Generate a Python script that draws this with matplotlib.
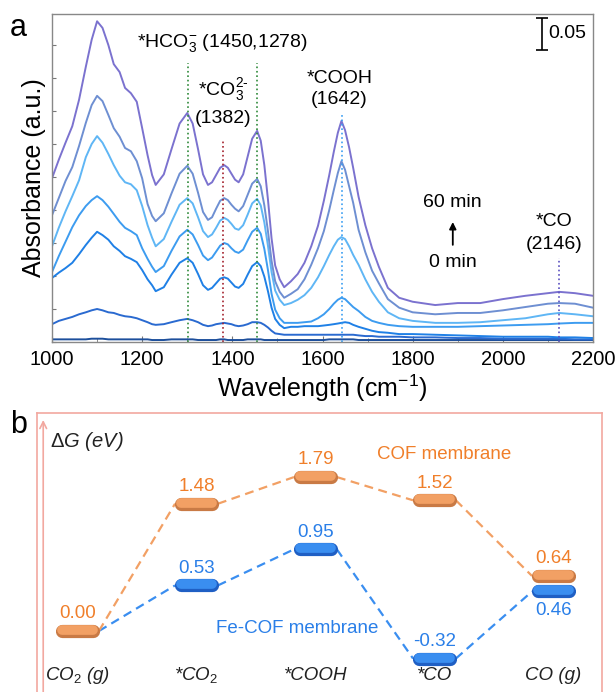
import numpy as np
import matplotlib
matplotlib.use("Agg")
import matplotlib.pyplot as plt
from matplotlib.ticker import MultipleLocator

plt.rcParams['font.family'] = ['Liberation Sans', 'DejaVu Sans']
plt.rcParams['mathtext.fontset'] = 'custom'
plt.rcParams['mathtext.rm'] = 'Liberation Sans'
plt.rcParams['mathtext.it'] = 'Liberation Sans:italic'

# ---- panel a: in-situ IR spectra ----
wn = [1000, 1015, 1030, 1045, 1060, 1075, 1088, 1100, 1112, 1125, 1137, 1150, 1162, 1175, 1188, 1200, 1212, 1222, 1230,
      1248, 1265, 1283, 1300, 1312, 1324, 1335, 1346, 1355, 1364, 1373, 1382, 1390, 1398, 1406, 1414,
      1424, 1434, 1444, 1455, 1463, 1471, 1479, 1487, 1495, 1505,
      1515, 1530, 1545, 1560, 1575, 1590, 1603, 1615, 1625, 1634, 1642, 1650, 1659, 1668, 1680, 1695,
      1710, 1725, 1745, 1770, 1800,
      1850, 1900, 1950, 2000, 2050, 2100, 2125, 2160, 2200]

abs_60 = [0.248, 0.276, 0.302, 0.327, 0.367, 0.417, 0.458, 0.486, 0.476, 0.450, 0.421, 0.409, 0.385, 0.377, 0.364, 0.324, 0.283, 0.253, 0.238,
          0.254, 0.292, 0.331, 0.347, 0.331, 0.292, 0.254, 0.238, 0.242, 0.253, 0.264, 0.268, 0.264, 0.255, 0.246, 0.242,
          0.254, 0.281, 0.308, 0.320, 0.305, 0.268, 0.216, 0.157, 0.116, 0.095,
          0.083, 0.092, 0.103, 0.120, 0.145, 0.176, 0.214, 0.253, 0.288, 0.317, 0.335, 0.321, 0.295, 0.264, 0.220, 0.177,
          0.142, 0.114, 0.082, 0.067, 0.061,
          0.056, 0.059, 0.059, 0.065, 0.070, 0.074, 0.076, 0.074, 0.070]
abs_50 = [0.192, 0.218, 0.244, 0.265, 0.297, 0.332, 0.359, 0.373, 0.365, 0.344, 0.324, 0.311, 0.294, 0.289, 0.274, 0.248, 0.209, 0.191, 0.183,
          0.195, 0.225, 0.255, 0.267, 0.255, 0.226, 0.197, 0.185, 0.189, 0.202, 0.214, 0.218, 0.215, 0.208, 0.202, 0.198,
          0.206, 0.223, 0.240, 0.247, 0.236, 0.207, 0.168, 0.123, 0.092, 0.076,
          0.067, 0.073, 0.080, 0.095, 0.117, 0.142, 0.168, 0.200, 0.230, 0.256, 0.274, 0.261, 0.236, 0.211, 0.170, 0.136,
          0.108, 0.089, 0.065, 0.052, 0.045,
          0.042, 0.044, 0.044, 0.048, 0.053, 0.058, 0.059, 0.058, 0.052]
abs_40 = [0.145, 0.173, 0.198, 0.221, 0.245, 0.280, 0.300, 0.312, 0.302, 0.285, 0.268, 0.252, 0.242, 0.239, 0.230, 0.206, 0.177, 0.158, 0.145,
          0.156, 0.182, 0.208, 0.218, 0.210, 0.189, 0.168, 0.159, 0.163, 0.173, 0.184, 0.188, 0.185, 0.179, 0.172, 0.170,
          0.177, 0.193, 0.210, 0.217, 0.207, 0.181, 0.146, 0.106, 0.078, 0.064,
          0.056, 0.059, 0.064, 0.071, 0.082, 0.098, 0.115, 0.132, 0.145, 0.155, 0.159, 0.156, 0.145, 0.132, 0.117, 0.095,
          0.076, 0.061, 0.045, 0.036, 0.032,
          0.029, 0.029, 0.030, 0.033, 0.036, 0.042, 0.044, 0.042, 0.039]
abs_30 = [0.106, 0.130, 0.152, 0.174, 0.192, 0.206, 0.215, 0.221, 0.215, 0.205, 0.194, 0.182, 0.173, 0.168, 0.162, 0.142, 0.126, 0.114, 0.106,
          0.115, 0.138, 0.160, 0.170, 0.163, 0.147, 0.131, 0.124, 0.128, 0.137, 0.146, 0.150, 0.148, 0.142, 0.137, 0.135,
          0.140, 0.154, 0.167, 0.173, 0.164, 0.141, 0.109, 0.073, 0.049, 0.036,
          0.029, 0.029, 0.029, 0.030, 0.031, 0.036, 0.042, 0.050, 0.058, 0.064, 0.067, 0.065, 0.059, 0.053, 0.047, 0.038,
          0.032, 0.029, 0.026, 0.024, 0.023,
          0.023, 0.023, 0.024, 0.025, 0.026, 0.027, 0.028, 0.029, 0.029]
abs_20 = [0.097, 0.105, 0.112, 0.120, 0.133, 0.147, 0.158, 0.167, 0.162, 0.155, 0.145, 0.138, 0.130, 0.126, 0.121, 0.109, 0.095, 0.086, 0.077,
          0.083, 0.102, 0.120, 0.127, 0.120, 0.103, 0.086, 0.079, 0.082, 0.089, 0.096, 0.098, 0.096, 0.090, 0.084, 0.082,
          0.088, 0.102, 0.115, 0.121, 0.115, 0.099, 0.077, 0.052, 0.035, 0.026,
          0.021, 0.023, 0.023, 0.024, 0.024, 0.024, 0.025, 0.026, 0.027, 0.028, 0.029, 0.030, 0.029, 0.026, 0.023, 0.020,
          0.017, 0.015, 0.014, 0.012, 0.012,
          0.011, 0.010, 0.009, 0.008, 0.008, 0.008, 0.007, 0.007, 0.006]
abs_10 = [0.027, 0.032, 0.035, 0.038, 0.042, 0.045, 0.048, 0.050, 0.048, 0.045, 0.044, 0.041, 0.039, 0.038, 0.036, 0.033, 0.030, 0.027, 0.026,
          0.027, 0.030, 0.033, 0.035, 0.033, 0.030, 0.026, 0.024, 0.025, 0.027, 0.028, 0.029, 0.028, 0.027, 0.025, 0.024,
          0.025, 0.027, 0.030, 0.030, 0.029, 0.026, 0.022, 0.017, 0.013, 0.012,
          0.011, 0.011, 0.011, 0.011, 0.011, 0.011, 0.011, 0.011, 0.011, 0.011, 0.011, 0.011, 0.011, 0.011, 0.010, 0.009,
          0.009, 0.008, 0.008, 0.008, 0.007,
          0.007, 0.006, 0.006, 0.005, 0.005, 0.005, 0.005, 0.004, 0.004]
abs_0 = [0.004, 0.004, 0.004, 0.004, 0.004, 0.004, 0.005, 0.005, 0.005, 0.004, 0.004, 0.004, 0.004, 0.004, 0.004, 0.004, 0.004, 0.003, 0.003,
         0.003, 0.004, 0.004, 0.004, 0.004, 0.003, 0.003, 0.003, 0.003, 0.003, 0.004, 0.004, 0.003, 0.003, 0.003, 0.003,
         0.003, 0.004, 0.004, 0.004, 0.004, 0.003, 0.003, 0.003, 0.003, 0.003,
         0.003, 0.003, 0.003, 0.003, 0.003, 0.003, 0.003, 0.004, 0.004, 0.004, 0.004, 0.004, 0.004, 0.004, 0.003, 0.003,
         0.003, 0.003, 0.003, 0.003, 0.003,
         0.003, 0.003, 0.003, 0.003, 0.003, 0.003, 0.003, 0.003, 0.003]

spectra = [abs_0, abs_10, abs_20, abs_30, abs_40, abs_50, abs_60]
spec_colors = ['#1d4f9c', '#2a6ad0', '#1f80e6', '#3d9cf0', '#5fb6f5', '#6e8fd2', '#7b72cf']

# ---- panel b: free energy diagram ----
steps = ['CO$_2$ (g)', '*CO$_2$', '*COOH', '*CO', 'CO (g)']
dG_cof = [0.00, 1.48, 1.79, 1.52, 0.64]
dG_fecof = [0.00, 0.53, 0.95, -0.32, 0.46]

W, H = 616, 692
fig = plt.figure(figsize=(W / 100, H / 100), dpi=100)

# ------------------------- panel a -------------------------
ax = fig.add_axes([52 / W, 1 - 342 / H, 541 / W, 328 / H])
for ys, c in zip(spectra, spec_colors):
    ax.plot(wn, ys, color=c, lw=1.4, solid_joinstyle='round')

# marker lines
ax.plot([1302, 1302], [0, 0.423], ls=':', color='#2f8a3a', lw=1.2)
ax.plot([1454, 1454], [0, 0.423], ls=':', color='#2f8a3a', lw=1.2)
ax.plot([1380, 1380], [0, 0.308], ls=':', color='#a3202c', lw=1.2)
ax.plot([1643, 1643], [0, 0.347], ls=':', color='#3a9ef2', lw=1.2)
ax.plot([2124, 2124], [0, 0.127], ls=':', color='#5a4fc0', lw=1.2)

ax.set_xlim(1000, 2200)
ax.set_ylim(0, 0.497)
ax.xaxis.set_major_locator(MultipleLocator(200))
ax.xaxis.set_minor_locator(MultipleLocator(100))
ax.yaxis.set_major_locator(MultipleLocator(0.05))
ax.set_yticklabels([])
ax.tick_params(axis='both', which='both', direction='in', color='#777777')
ax.tick_params(axis='x', which='major', length=4, labelsize=14.5, pad=6)
ax.tick_params(axis='x', which='minor', length=3)
ax.tick_params(axis='y', length=3)
for s in ax.spines.values():
    s.set_color('#888888')
    s.set_linewidth(1.0)
ax.set_xlabel('Wavelength (cm$^{-1}$)', fontsize=18, labelpad=2)
ax.set_ylabel('Absorbance (a.u.)', fontsize=18, labelpad=1)

fs = 14
ax.text(1379, 0.453, '*HCO$_3^{-}$ (1450,1278)', ha='center', va='center', fontsize=fs)
ax.text(1380, 0.382, '*CO$_3^{2\u2010}$', ha='center', va='center', fontsize=fs)
ax.text(1380, 0.339, '(1382)', ha='center', va='center', fontsize=fs)
ax.text(1637, 0.400, '*COOH', ha='center', va='center', fontsize=fs)
ax.text(1637, 0.367, '(1642)', ha='center', va='center', fontsize=fs)
ax.text(1887, 0.211, '60 min', ha='center', va='center', fontsize=fs)
ax.text(1890, 0.121, '0 min', ha='center', va='center', fontsize=fs)
ax.annotate('', xy=(1889, 0.186), xytext=(1889, 0.143),
            arrowprops=dict(arrowstyle='-|>', color='k', lw=1.3, mutation_scale=10))
ax.text(2113, 0.182, '*CO', ha='center', va='center', fontsize=fs)
ax.text(2113, 0.147, '(2146)', ha='center', va='center', fontsize=fs)
ax.errorbar([2086], [0.467], yerr=[0.024], color='k', lw=1.2, capsize=4, capthick=1.2)
ax.text(2100, 0.467, '0.05', ha='left', va='center', fontsize=fs)

fig.text(10 / W, 1 - 28 / H, 'a', fontsize=22, ha='left', va='center')

# ------------------------- panel b -------------------------
bx = fig.add_axes([37 / W, 0, 565 / W, (H - 413) / H])
pink = '#f2a8a0'
for k in ['left', 'right', 'top']:
    bx.spines[k].set_color(pink)
    bx.spines[k].set_linewidth(1.2)
bx.spines['bottom'].set_visible(False)
bx.set_xticks([])
bx.set_yticks([])
bx.set_xlim(-0.340, 4.408)
bx.set_ylim(-0.709, 2.535)
bx.annotate('', xy=(0.011, 0.985), xytext=(0.011, -0.01), xycoords='axes fraction',
            arrowprops=dict(arrowstyle='->', color=pink, lw=1.2, mutation_scale=12))

orange, orange_dk = '#f2a064', '#c97a45'
blue, blue_dk = '#3a8ef0', '#1f5fc4'
half = 0.13
x = np.arange(len(steps))


def draw_path(vals, c, cd, skip_first=False):
    for i in range(len(vals) - 1):
        bx.plot([x[i] + half + 0.05, x[i + 1] - half - 0.05], [vals[i], vals[i + 1]],
                ls='--', color=c, lw=1.6, dashes=(4, 2.5), zorder=1)
    for i, v in enumerate(vals):
        if skip_first and i == 0:
            continue
        bx.plot([x[i] - half, x[i] + half], [v, v], color=cd, lw=9.5,
                solid_capstyle='round', zorder=3)
        bx.plot([x[i] - half, x[i] + half], [v + 0.012, v + 0.012], color=c, lw=7,
                solid_capstyle='round', zorder=4)


draw_path(dG_fecof, blue, blue_dk, skip_first=True)
draw_path(dG_cof, orange, orange_dk)

lab_fs = 13.5
for i, v in enumerate(dG_cof):
    bx.text(x[i], v + 0.20, f'{v:.2f}', ha='center', va='center', color='#f07f2a', fontsize=lab_fs)
for i, v in enumerate(dG_fecof):
    if i == 0:
        continue
    off = -0.22 if i == len(dG_fecof) - 1 else 0.20
    bx.text(x[i], v + off, f'{v:.2f}', ha='center', va='center', color='#2a7fe8', fontsize=lab_fs)

bx.text(3.08, 2.047, 'COF membrane', ha='center', va='center', color='#f07f2a', fontsize=13.5)
bx.text(1.845, 0.035, 'Fe-COF membrane', ha='center', va='center', color='#2a7fe8', fontsize=13.5)
bx.text(-0.23, 2.198, r'$\Delta G$ (eV)', ha='left', va='center', fontsize=14.5,
        style='italic', color='#222222')
for i, s in enumerate(steps):
    bx.text(x[i], -0.512, s, ha='center', va='center', fontsize=13.5, style='italic',
            color='#222222')

fig.text(10 / W, 1 - 425 / H, 'b', fontsize=22, ha='left', va='center')

fig.savefig('out.png', dpi=100)
